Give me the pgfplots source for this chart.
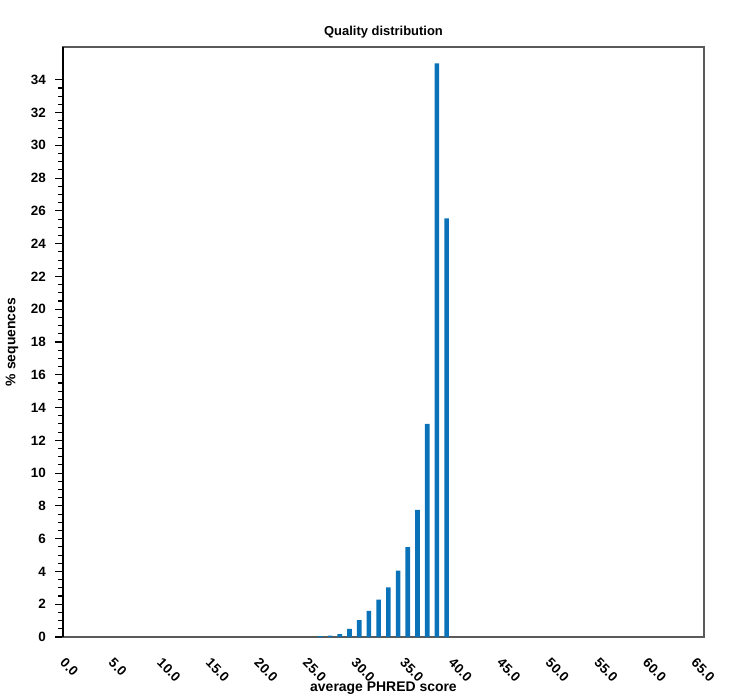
\documentclass[border=0pt]{standalone}
\usepackage{pgfplots}
\pgfplotsset{compat=1.18}
\usepackage{fontspec}
\setmainfont{Liberation Sans}
\definecolor{barblue}{HTML}{0A72B8}
\definecolor{axgray}{HTML}{5A5A5A}
\begin{document}
\begin{tikzpicture}
\useasboundingbox (-63bp,-63bp) rectangle (689bp,637bp);
\begin{axis}[
  at={(0,0)}, anchor=south west,
  scale only axis, width=641bp, height=590bp,
  xmin=0, xmax=66, ymin=0, ymax=36,
  xtick={0,5,...,65},
  ytick={0,2,...,34},
  minor y tick num=3,
  ytick pos=left,
  tick align=outside,
  major tick length=8bp,
  minor tick length=5bp,
  x tick style={draw=none},
  y tick style={black, line width=1.1bp},
  minor y tick style={black, line width=1.1bp},
  axis line style={draw=axgray, line width=1.3bp},
  /pgf/number format/assume math mode=true,
  xticklabel style={font=\fontsize{13.5}{15}\selectfont\bfseries, rotate=-45, anchor=west, inner sep=0pt, xshift=10.6bp, yshift=-11.3bp,
    /pgf/number format/.cd, fixed, fixed zerofill, precision=1},
  yticklabel style={font=\fontsize{13.5}{15}\selectfont\bfseries, inner sep=0pt, xshift=-9bp},
  title={Quality distribution},
  title style={font=\fontsize{13}{15}\selectfont\bfseries, at={(axis description cs:0.5,1)}, anchor=base, yshift=6bp},
  xlabel={average PHRED score},
  xlabel style={font=\fontsize{14}{16}\selectfont\bfseries, at={(axis description cs:0.5,-0.0864)}, anchor=center},
  ylabel={\% sequences},
  ylabel style={font=\fontsize{14}{16}\selectfont\bfseries, at={(axis description cs:-0.0796,0.5)}, anchor=center},
  clip=false,
]
\addplot[ybar, bar width=4.6bp, draw=none, fill=barblue] coordinates {
  (26.5,0.05) (27.5,0.08) (28.5,0.17) (29.5,0.5) (30.5,1.03) (31.5,1.6) (32.5,2.28)
  (33.5,3.03) (34.5,4.05) (35.5,5.48) (36.5,7.76) (37.5,13.0) (38.5,35.0) (39.5,25.55)
};
\draw[black, line width=1.5bp] (rel axis cs:0,0) -- (rel axis cs:0,1);
\end{axis}
\end{tikzpicture}
\end{document}
